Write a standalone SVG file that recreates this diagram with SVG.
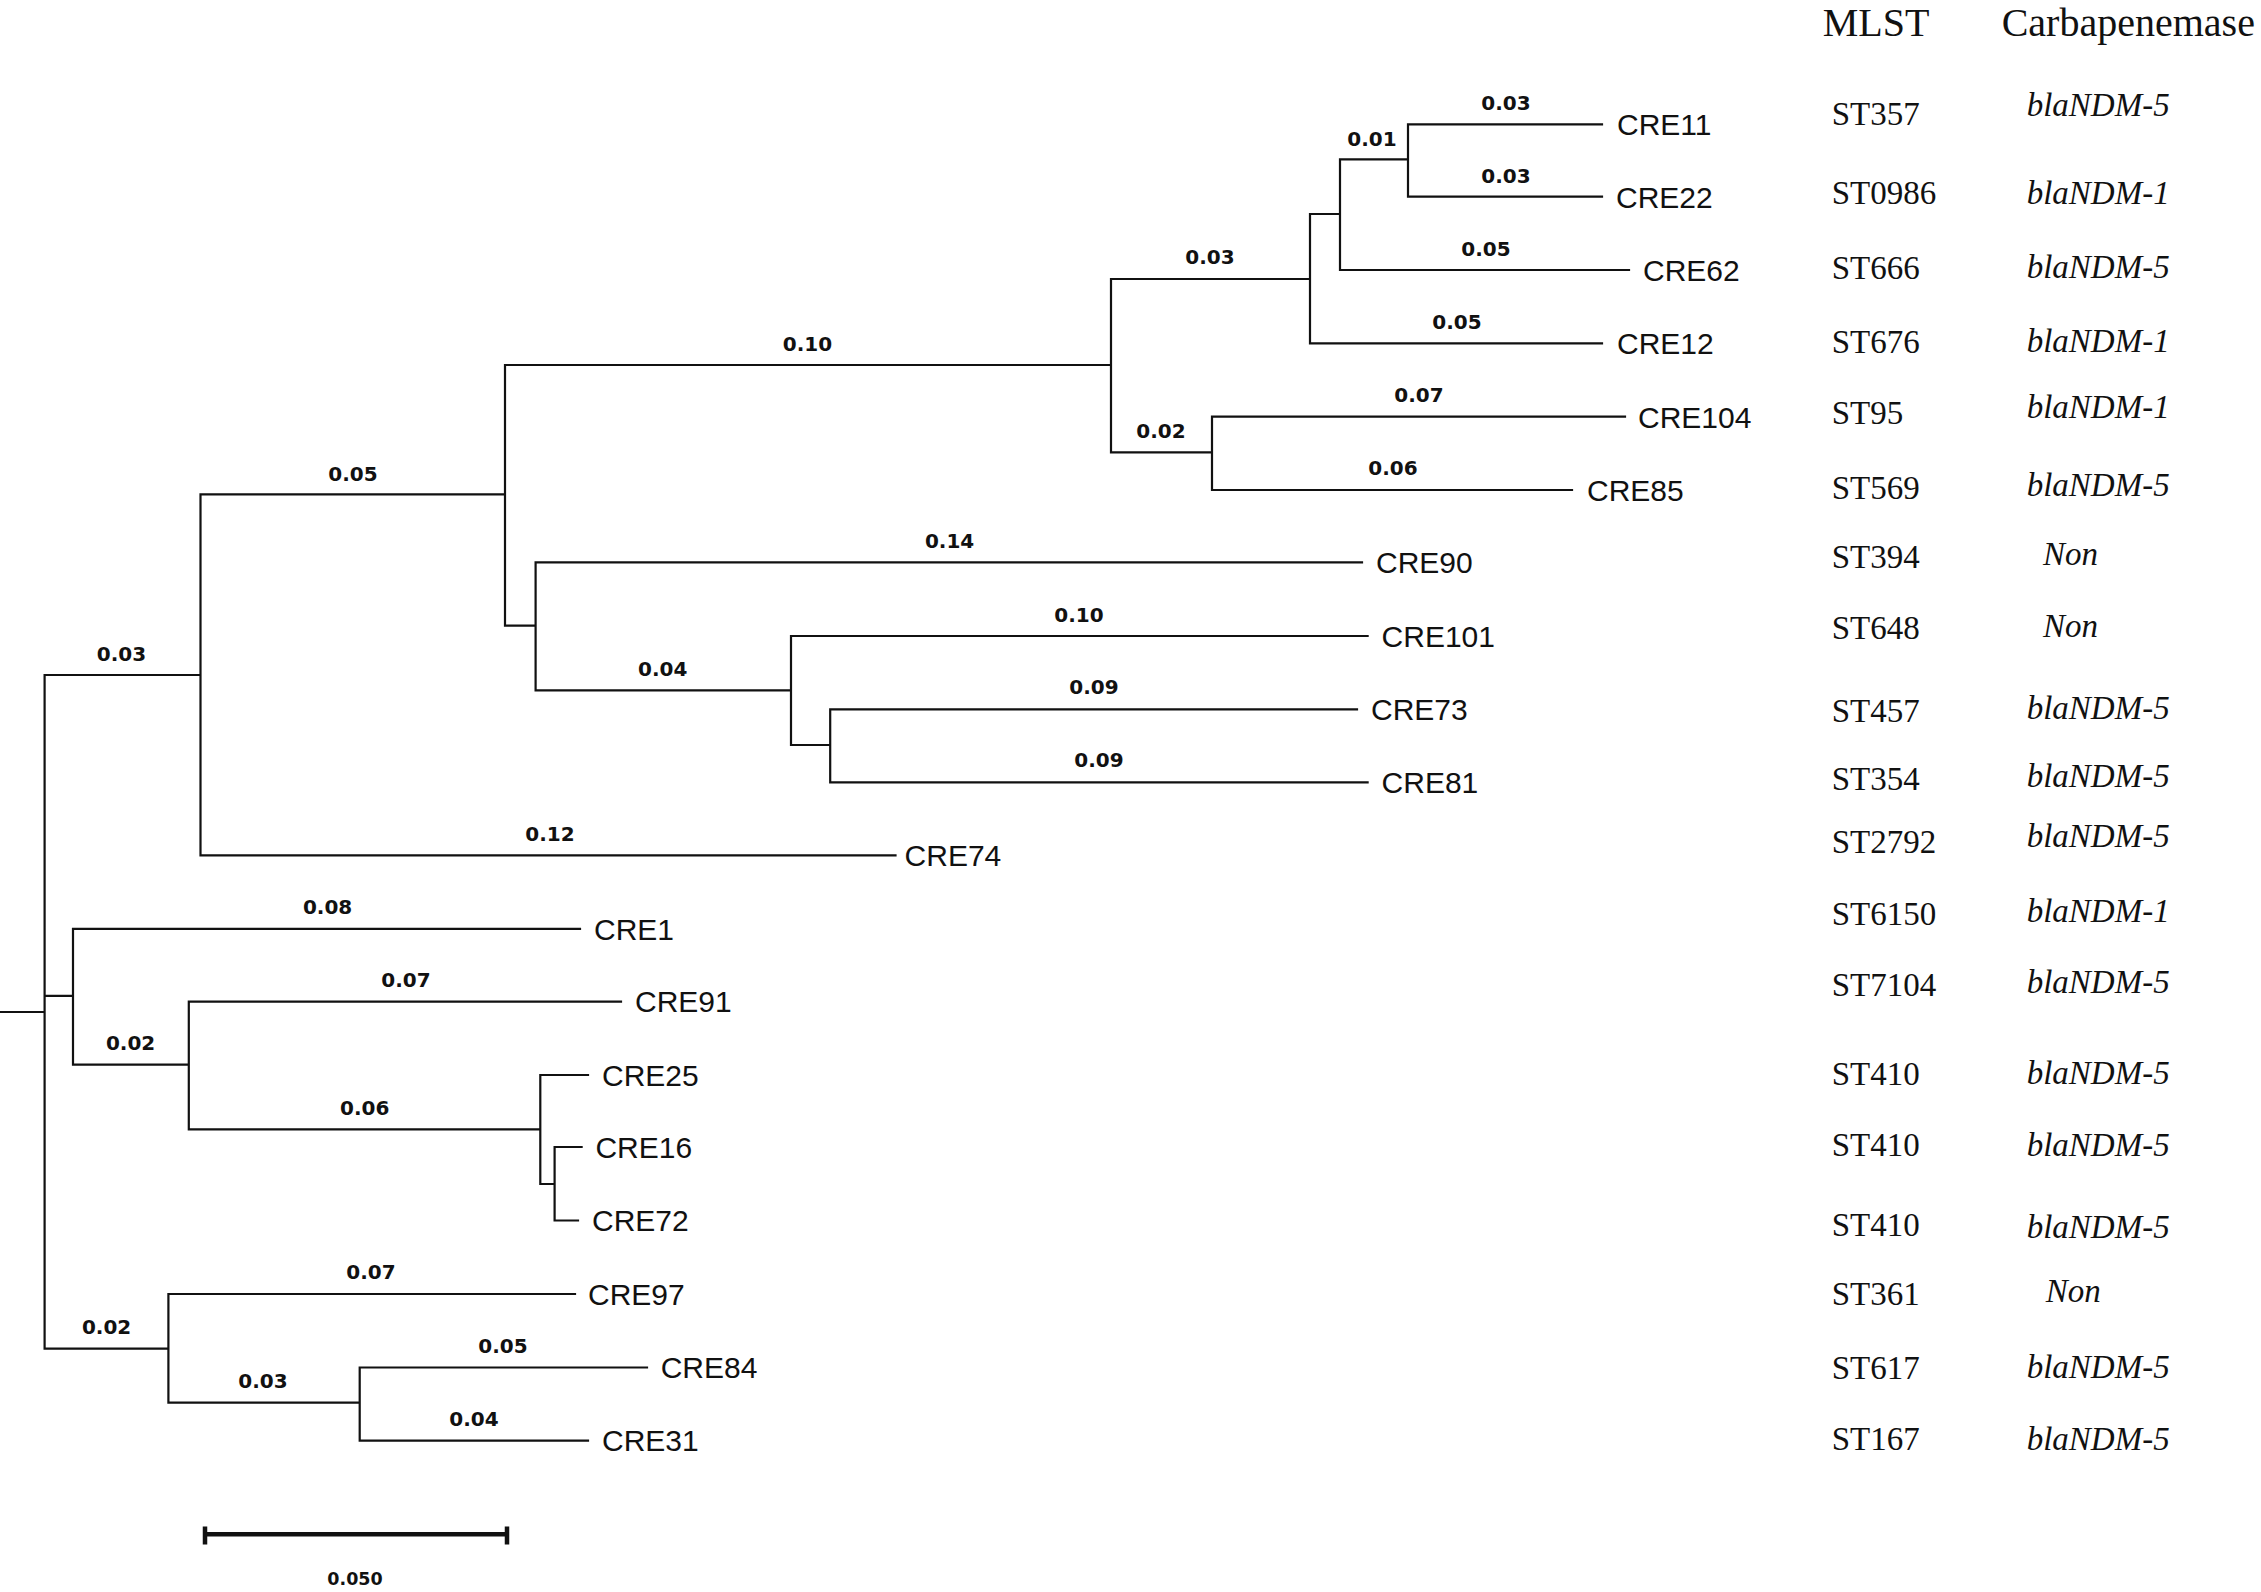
<svg xmlns="http://www.w3.org/2000/svg" width="2261" height="1592" viewBox="0 0 2261 1592">
<style>
.br{fill:none;stroke:#111;stroke-width:2.2;stroke-linecap:square}
.bl{font-family:"DejaVu Sans",Verdana,sans-serif;font-weight:bold;font-size:20px;fill:#111;text-anchor:middle}
.lf{font-family:"Liberation Sans",Arial,sans-serif;font-size:30px;fill:#111}
.hd{font-family:"Liberation Serif","Times New Roman",serif;font-size:40px;fill:#111}
.st{font-family:"Liberation Serif","Times New Roman",serif;font-size:33px;fill:#111}
.cb{font-family:"Liberation Serif","Times New Roman",serif;font-style:italic;font-size:33px;fill:#111}
</style>
<rect width="2261" height="1592" fill="#fff"/>
<g id="connectors">
<path class="br" d="M0 1012H44.6 M44.6 675V1348.7
M44.6 675H200.5 M200.5 494.3V855.3
M200.5 494.3H505 M505 365V625.7
M505 365H1111 M1111 279V452.3
M1111 279H1310 M1310 214V343.3
M1310 214H1340 M1340 159.3V270
M1340 159.3H1408 M1408 124.3V196.7
M1408 124.3H1602 M1408 196.7H1602
M1340 270H1629 M1310 343.3H1602
M1111 452.3H1212 M1212 416.7V490
M1212 416.7H1625 M1212 490H1572
M505 625.7H535.6 M535.6 562.3V690.3
M535.6 562.3H1362 M535.6 690.3H791 M791 636V745
M791 636H1367.6 M791 745H830.2 M830.2 709.3V782.3
M830.2 709.3H1357 M830.2 782.3H1367.6
M200.5 855.3H895.5
M44.6 995.9H73 M73 928.9V1064.7
M73 928.9H580 M73 1064.7H188.8 M188.8 1001.6V1129.4
M188.8 1001.6H621 M188.8 1129.4H540.3 M540.3 1075V1184
M540.3 1075H588 M540.3 1184H554.6 M554.6 1147V1220.5
M554.6 1147H581.6 M554.6 1220.5H578
M44.6 1348.7H168.4 M168.4 1294V1402.7
M168.4 1294H575 M168.4 1402.7H359.7 M359.7 1367.5V1440.6
M359.7 1367.5H647 M359.7 1440.6H588"/>
<g id="branch-lengths">
<text class="bl" x="121.5" y="660.7">0.03</text>
<text class="bl" x="353" y="480.7">0.05</text>
<text class="bl" x="807.5" y="351">0.10</text>
<text class="bl" x="1210" y="264">0.03</text>
<text class="bl" x="1372" y="146">0.01</text>
<text class="bl" x="1506" y="110">0.03</text>
<text class="bl" x="1506" y="183">0.03</text>
<text class="bl" x="1486" y="256">0.05</text>
<text class="bl" x="1457" y="329">0.05</text>
<text class="bl" x="1161" y="438">0.02</text>
<text class="bl" x="1419" y="402">0.07</text>
<text class="bl" x="1393" y="475">0.06</text>
<text class="bl" x="949.6" y="548.3">0.14</text>
<text class="bl" x="662.7" y="675.7">0.04</text>
<text class="bl" x="1079" y="621.7">0.10</text>
<text class="bl" x="1094" y="694.3">0.09</text>
<text class="bl" x="1099" y="767.3">0.09</text>
<text class="bl" x="550" y="840.5">0.12</text>
<text class="bl" x="327.6" y="913.6">0.08</text>
<text class="bl" x="406" y="987">0.07</text>
<text class="bl" x="130.6" y="1050">0.02</text>
<text class="bl" x="364.8" y="1114.5">0.06</text>
<text class="bl" x="371" y="1279">0.07</text>
<text class="bl" x="106.6" y="1333.8">0.02</text>
<text class="bl" x="503" y="1352.5">0.05</text>
<text class="bl" x="263" y="1388">0.03</text>
<text class="bl" x="474" y="1425.6">0.04</text>
</g>
</g>
<g id="leaves">
<g id="CRE11"><text class="lf" x="1617" y="135">CRE11</text></g>
<g id="CRE22"><text class="lf" x="1616" y="207.5">CRE22</text></g>
<g id="CRE62"><text class="lf" x="1643" y="280.5">CRE62</text></g>
<g id="CRE12"><text class="lf" x="1617" y="354">CRE12</text></g>
<g id="CRE104"><text class="lf" x="1638" y="427.5">CRE104</text></g>
<g id="CRE85"><text class="lf" x="1587" y="500.5">CRE85</text></g>
<g id="CRE90"><text class="lf" x="1376" y="573">CRE90</text></g>
<g id="CRE101"><text class="lf" x="1381.6" y="647">CRE101</text></g>
<g id="CRE73"><text class="lf" x="1371" y="720">CRE73</text></g>
<g id="CRE81"><text class="lf" x="1381.6" y="793">CRE81</text></g>
<g id="CRE74"><text class="lf" x="904.6" y="866">CRE74</text></g>
<g id="CRE1"><text class="lf" x="594" y="939.5">CRE1</text></g>
<g id="CRE91"><text class="lf" x="635" y="1012">CRE91</text></g>
<g id="CRE25"><text class="lf" x="602" y="1085.5">CRE25</text></g>
<g id="CRE16"><text class="lf" x="595.4" y="1157.5">CRE16</text></g>
<g id="CRE72"><text class="lf" x="592" y="1231">CRE72</text></g>
<g id="CRE97"><text class="lf" x="588" y="1304.5">CRE97</text></g>
<g id="CRE84"><text class="lf" x="660.7" y="1378">CRE84</text></g>
<g id="CRE31"><text class="lf" x="602" y="1451">CRE31</text></g>
</g>
<g id="table">
<g id="headers"><text class="hd" x="1822.7" y="35.7">MLST</text><text class="hd" x="2001.7" y="35.7">Carbapenemase</text></g>
<g id="row-CRE11"><text class="st" x="1831.7" y="125">ST357</text><text class="cb" x="2026.7" y="116">blaNDM-5</text></g>
<g id="row-CRE22"><text class="st" x="1831.7" y="204.3">ST0986</text><text class="cb" x="2026.7" y="204.3">blaNDM-1</text></g>
<g id="row-CRE62"><text class="st" x="1831.7" y="278.6">ST666</text><text class="cb" x="2026.7" y="278">blaNDM-5</text></g>
<g id="row-CRE12"><text class="st" x="1831.7" y="352.9">ST676</text><text class="cb" x="2026.7" y="351.8">blaNDM-1</text></g>
<g id="row-CRE104"><text class="st" x="1831.7" y="424.3">ST95</text><text class="cb" x="2026.7" y="417.9">blaNDM-1</text></g>
<g id="row-CRE85"><text class="st" x="1831.7" y="499.3">ST569</text><text class="cb" x="2026.7" y="495.7">blaNDM-5</text></g>
<g id="row-CRE90"><text class="st" x="1831.7" y="568.3">ST394</text><text class="cb" x="2043" y="565">Non</text></g>
<g id="row-CRE101"><text class="st" x="1831.7" y="639.3">ST648</text><text class="cb" x="2043" y="636.7">Non</text></g>
<g id="row-CRE73"><text class="st" x="1831.7" y="721.7">ST457</text><text class="cb" x="2026.7" y="719.3">blaNDM-5</text></g>
<g id="row-CRE81"><text class="st" x="1831.7" y="790">ST354</text><text class="cb" x="2026.7" y="787.3">blaNDM-5</text></g>
<g id="row-CRE74"><text class="st" x="1831.7" y="853.3">ST2792</text><text class="cb" x="2026.7" y="846.7">blaNDM-5</text></g>
<g id="row-CRE1"><text class="st" x="1831.7" y="925">ST6150</text><text class="cb" x="2026.7" y="921.7">blaNDM-1</text></g>
<g id="row-CRE91"><text class="st" x="1831.7" y="996">ST7104</text><text class="cb" x="2026.7" y="993.3">blaNDM-5</text></g>
<g id="row-CRE25"><text class="st" x="1831.7" y="1085">ST410</text><text class="cb" x="2026.7" y="1084">blaNDM-5</text></g>
<g id="row-CRE16"><text class="st" x="1831.7" y="1156">ST410</text><text class="cb" x="2026.7" y="1156">blaNDM-5</text></g>
<g id="row-CRE72"><text class="st" x="1831.7" y="1236">ST410</text><text class="cb" x="2026.7" y="1238.3">blaNDM-5</text></g>
<g id="row-CRE97"><text class="st" x="1831.7" y="1305">ST361</text><text class="cb" x="2045.7" y="1301.7">Non</text></g>
<g id="row-CRE84"><text class="st" x="1831.7" y="1379.3">ST617</text><text class="cb" x="2026.7" y="1378.3">blaNDM-5</text></g>
<g id="row-CRE31"><text class="st" x="1831.7" y="1450">ST167</text><text class="cb" x="2026.7" y="1450">blaNDM-5</text></g>
</g>
<g id="scale-bar">
<path d="M205 1534.3H507 M205 1526.5V1544.5 M507 1526.5V1544.5" fill="none" stroke="#111" stroke-width="4.5"/>
<text class="bl" x="355" y="1585" style="font-size:17.5px">0.050</text>
</g>
</svg>
